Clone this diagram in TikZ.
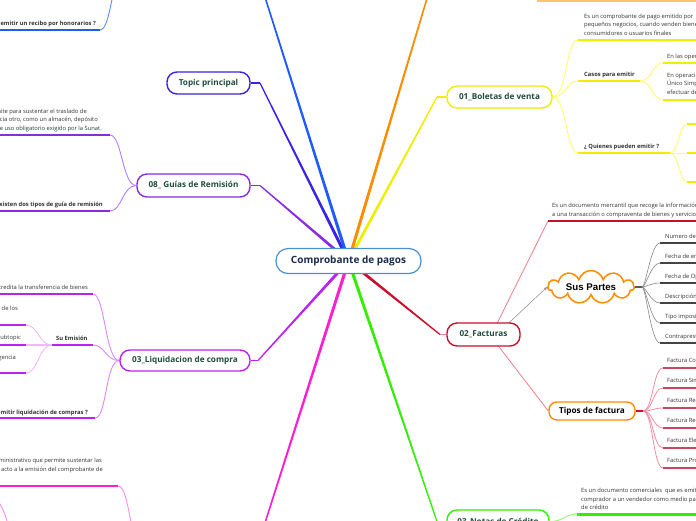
\documentclass[tikz,border=0pt]{standalone}
\usepackage{fontspec}
\setmainfont{Open Sans}
\newfontfamily\arialfont{Liberation Sans}
\usetikzlibrary{shapes.symbols,calc,arrows.meta}
\pgfdeclarelayer{bg}
\pgfsetlayers{bg,main}
\definecolor{cCenterB}{HTML}{4A90D0}
\definecolor{cNavy}{HTML}{1B2B4B}
\definecolor{cTG}{HTML}{1F4D3C}
\definecolor{cTxt}{HTML}{333333}
\definecolor{cBlue}{HTML}{1F5BFF}
\definecolor{cBlueL}{HTML}{5C8BFF}
\definecolor{cInd}{HTML}{3A22E6}
\definecolor{cOr}{HTML}{FF8C00}
\definecolor{cOrL}{HTML}{FFC46E}
\definecolor{cYel}{HTML}{EEEE00}
\definecolor{cYelL}{HTML}{FFFF70}
\definecolor{cCr}{HTML}{C8102E}
\definecolor{cCrL}{HTML}{E8808F}
\definecolor{cGreen}{HTML}{33EE00}
\definecolor{cGreenL}{HTML}{88FF66}
\definecolor{cPink}{HTML}{FF1ED2}
\definecolor{cPinkL}{HTML}{FF8CEB}
\definecolor{cMag}{HTML}{BB22EE}
\definecolor{cMagL}{HTML}{DD88FF}
\definecolor{cMagLL}{HTML}{F0B8FF}
\definecolor{cPur}{HTML}{8A2BE2}
\definecolor{cPurL}{HTML}{B080FF}
\definecolor{cGray}{HTML}{888888}
\definecolor{cDark}{HTML}{444444}
\definecolor{cTip}{HTML}{CC4560}
\definecolor{cTipL}{HTML}{EE8FA0}
\newcommand\mmtaper[5]{\fill[#1] ($(#2)!#4!90:(#3)$) -- ($(#3)!#5!-90:(#2)$) -- ($(#3)!#5!90:(#2)$) -- ($(#2)!#4!-90:(#3)$) -- cycle;}
\tikzset{
 cnode/.style={draw=cCenterB, line width=1.2pt, rounded corners=12pt, fill=white, minimum width=145pt, minimum height=25pt, inner sep=0pt, font=\fontsize{10}{12}\selectfont\bfseries, text=cNavy},
 topic/.style={rounded corners=10pt, line width=1.4pt, fill=white, minimum height=22pt, inner sep=0pt, font=\fontsize{8.2}{9}\selectfont\bfseries, text=cTG},
 ctext/.style={inner sep=0pt, font=\fontsize{5.8}{8.6}\selectfont, text=cTxt, align=left},
 btext/.style={ctext, font=\fontsize{5.8}{8.6}\selectfont\bfseries},
 conn/.style={line width=0.9pt},
 uline/.style={line width=2pt}
}
\begin{document}
\begin{tikzpicture}[x=1pt,y=-1pt]
\useasboundingbox (0,0) rectangle (696,520);
\clip (0,0) rectangle (696,520);
% ---------- topic nodes
\node[cnode] (C) at (348.5,261) {Comprobante de pagos};
\node[topic, draw=cInd, minimum width=83pt] (TP) at (208.5,83) {Topic principal};
\node[topic, draw=cPur, minimum width=113pt, minimum height=23pt] (G08) at (193.5,185.5) {08\_ Guías de Remisión};
\node[topic, draw=cMag, minimum width=130pt, minimum height=21pt] (L03) at (185,360.5) {03\_Liquidacion de compra};
\node[topic, draw=cYel, minimum width=105pt] (B01) at (499.5,97) {01\_Boletas de venta};
\node[topic, draw=cCr, minimum width=73pt, minimum height=23pt] (F02) at (483.5,334.5) {02\_Facturas};
\node[topic, draw=cGreen, minimum width=102pt, minimum height=23pt] (N03) at (498,521.5) {03\_Notas de Crédito};
\node[topic, draw=cOr, minimum width=86pt, minimum height=18pt, rounded corners=8pt, text=black] (TF) at (592,411) {Tipos de factura};
\node[cloud, cloud puffs=11, cloud ignores aspect, draw=cOr, line width=1.5pt, fill=white, minimum width=86pt, minimum height=33pt, inner sep=0pt, font=\arialfont\fontsize{9.7}{11}\selectfont\bfseries] (SP) at (591,287) {Sus Partes};
% ---------- text of sub-topics (right)
\node[ctext, anchor=north west] (tb1) at (584,13.6) {Es un comprobante de pago emitido por\\pequeños negocios, cuando venden bienes\\consumidores o usuarios finales};
\node[btext, anchor=base west] (tb2) at (584,76) {Casos para emitir};
\node[ctext, anchor=base west] (tb21) at (667,58) {En las operaciones};
\node[ctext, anchor=north west] (tb22) at (667,72.8) {En operaciones\\Único Simplificado\\efectuar deducciones};
\node[btext, anchor=base west] (tb3) at (584,148) {¿ Quienes pueden emitir ?};
\node[ctext, anchor=north west] (tf1) at (552,202.8) {Es un documento mercantil que recoge la información\\a una transacción o compraventa de bienes y servicios};
\foreach \y/\t [count=\i] in {243/Numero de factura,263/Fecha de emisión,283/Fecha de Operación,303/Descripción,323/Tipo impositivo,343/Contraprestación}{
  \node[ctext, anchor=base west] (tsp\i) at (665,\y-5) {\t};
  \coordinate (sp\i) at (660,\y);
}
\foreach \y/\t [count=\i] in {368/Factura Comercial,388/Factura Simplificada,408/Factura Rectificativa,428/Factura Recapitulativa,448/Factura Electrónica,468/Factura Proforma}{
  \node[ctext, anchor=base west] (ttf\i) at (667,\y-5.5) {\t};
  \coordinate (tf\i) at (663,\y);
}
\node[ctext, anchor=north west] (tg1) at (581,487.8) {Es un documento comerciales\ \ que es emitido por el\\comprador a un vendedor como medio para\\de crédito};
% ---------- text of sub-topics (left)
\node[btext, anchor=base east] (tq1) at (96,25) {¿Quién debe emitir un recibo por honorarios ?};
\node[ctext, anchor=base east] (tg08a) at (87,113) {que se emite para sustentar el traslado de};
\node[ctext, anchor=base east] (tg08b) at (98,121.5) {bienes de un lugar hacia otro, como un almacén, depósito};
\node[ctext, anchor=base east] (tg08c) at (102,130) {Es un documento de uso obligatorio exigido por la Sunat.};
\node[btext, anchor=base east] (tg08d) at (103,206) {Existen dos tipos de guía de remisión};
\node[ctext, anchor=base east] (tl1) at (88,289) {Acredita la transferencia de bienes};
\node[btext, anchor=base west] (tl2) at (56,340) {Su Emisión};
\node[ctext, anchor=base east] (tl21) at (18,310) {la compra de los};
\node[ctext, anchor=base east] (tl22) at (21,339.5) {Subtopic};
\node[ctext, anchor=base east] (tl23) at (16,359) {contingencia};
\node[btext, anchor=base east] (tl3) at (88,414) {¿Quién debe emitir liquidación de compras ?};
\node[ctext, anchor=base east] (tp1a) at (102,462) {Es un documento administrativo que permite sustentar las};
\node[ctext, anchor=base east] (tp1b) at (103,471) {o en el acto a la emisión del comprobante de};
% ---------- coordinates
\coordinate (eTP) at (260,83);
\coordinate (eG08) at (260,185.5);
\coordinate (eL03) at (258,360.5);
\coordinate (eB01) at (437,97);
\coordinate (eF02) at (440,334.5);
\coordinate (eN03) at (437,521.5);
\coordinate (eBl) at (258,-25);
\coordinate (eOr) at (434,-25);
\coordinate (ePk) at (257,548);
\coordinate (yb1) at (578,40);
\coordinate (yb2) at (578,81);
\coordinate (yb2e) at (640,81);
\coordinate (yb21) at (663,63);
\coordinate (yb22) at (663,100);
\coordinate (yb3) at (578,153);
\coordinate (yb3e) at (670,153);
\coordinate (yb31) at (687,124);
\coordinate (yb32) at (687,153);
\coordinate (yb33) at (687,182);
\coordinate (or1) at (537,1);
\coordinate (fr1) at (548,221);
\coordinate (spH) at (642,287);
\coordinate (tfH) at (643,411);
\coordinate (gr1) at (577,514);
\coordinate (bl1) at (100,30);
\coordinate (blP) at (122,-25);
\coordinate (g1) at (110,135);
\coordinate (g2) at (110,211);
\coordinate (l1) at (93,294);
\coordinate (l2) at (93,345);
\coordinate (l2L) at (52,345);
\coordinate (l21) at (26,325);
\coordinate (l22) at (26,345);
\coordinate (l23) at (26,373);
\coordinate (l3) at (95,418);
\coordinate (p1) at (118,486);
\coordinate (pk2) at (142,548);
\coordinate (pk4) at (-8,498);
\coordinate (pk5) at (10,532);
% ---------- connectors
\begin{pgfonlayer}{bg}
\clip (0,0) rectangle (696,520);
\fill[white] (0,0) rectangle (696,520);
% main branches
\mmtaper{cInd}{C.center}{eTP}{1.6pt}{0.6pt}
\draw[cInd, line width=1.2pt] (eTP) -- (TP.east);
\mmtaper{cPur}{C.center}{eG08}{1.6pt}{0.6pt}
\draw[cPur, line width=1.2pt] (eG08) -- (G08.east);
\mmtaper{cMag}{C.center}{eL03}{1.6pt}{0.6pt}
\draw[cMag, line width=1.2pt] (eL03) -- (L03.east);
\mmtaper{cYel}{C.center}{eB01}{1.6pt}{0.6pt}
\draw[cYel, line width=1.2pt] (eB01) -- (B01.west);
\mmtaper{cCr}{C.center}{eF02}{1.6pt}{0.6pt}
\draw[cCrL, line width=1.2pt] (eF02) -- (F02.west);
\mmtaper{cGreen}{C.center}{eN03}{1.6pt}{0.6pt}
\draw[cGreen, line width=1.2pt] (eN03) -- (N03.west);
\mmtaper{cBlue}{C.center}{eBl}{1.6pt}{0.7pt}
\mmtaper{cOr}{C.center}{eOr}{1.6pt}{0.7pt}
\mmtaper{cPink}{C.center}{ePk}{1.6pt}{0.7pt}
% yellow branch
\foreach \t in {yb1,yb2,yb3}{\draw[cYelL, conn] (B01.east) .. controls +(14,0) and +(-12,0) .. (\t);}
\draw[cYel, uline] (yb1) -- ++(130,0);
\draw[cYel, uline] (yb2) -- (yb2e);
\draw[cYel, uline] (yb3) -- (yb3e);
\foreach \t in {yb21,yb22}{\draw[cYelL, conn] (yb2e) .. controls +(12,0) and +(-11,0) .. (\t); \draw[cYel, uline] (\t) -- ++(40,0);}
\foreach \t in {yb31,yb32,yb33}{\draw[cYelL, conn] (yb3e) .. controls +(9,0) and +(-8,0) .. (\t); \draw[cYel, uline] (\t) -- ++(20,0);}
% orange
\draw[cOrL, uline] (or1) -- ++(170,0);
% crimson branch
\draw[cCrL, line width=0.8pt] ($(F02.center)+(8,0)$) -- (fr1);
\draw[cCr, line width=1.5pt] (fr1) -- ++(160,0);
\draw[cGray, line width=0.5pt, -{Stealth[length=3.5pt,width=2.8pt]}] ($(F02.center)+(13,0)$) -- (SP.west);
\draw[cCrL, line width=0.8pt] ($(F02.center)+(6,0)$) -- (TF.west);
\draw[black, line width=1.2pt] (SP.east) -- (spH);
\foreach \i in {1,...,6}{\draw[cGray, line width=0.6pt] (spH) .. controls +(4,0) and +(-9,0) .. (sp\i); \draw[cDark, line width=2.2pt] (sp\i) -- ++(40,0);}
\draw[cCr, line width=1.5pt] (TF.east) -- (tfH);
\foreach \i in {1,...,6}{\draw[cTipL, line width=0.8pt] (tfH) .. controls +(10,0) and +(-10,0) .. (tf\i); \draw[cTip, line width=2.4pt] (tf\i) -- ++(40,0);}
% green
\draw[cGreenL, conn] (N03.east) .. controls +(14,0) and +(-12,0) .. (gr1);
\draw[cGreen, line width=3pt] (gr1) -- ++(130,0);
% blue
\draw[cBlueL, conn] (bl1) .. controls +(11,0) and +(-10,0) .. (blP);
\draw[cBlue, uline] (bl1) -- ++(-110,0);
% purple 08
\foreach \t in {g1,g2}{\draw[cPurL, conn] (G08.west) .. controls +(-14,0) and +(12,0) .. (\t); \draw[cPur, uline] (\t) -- ++(-120,0);}
% liquidacion
\foreach \t in {l1,l2,l3}{\draw[cMagL, conn] (L03.west) .. controls +(-14,0) and +(12,0) .. (\t);}
\draw[cMag, uline] (l1) -- ++(-100,0);
\draw[cMag, uline] (l3) -- ++(-100,0);
\draw[cMag, uline] (l2) -- (l2L);
\foreach \t in {l21,l23}{\draw[cMagLL, conn] (l2L) .. controls +(-13,0) and +(12,0) .. (\t);}
\draw[cMagLL, line width=2pt] (l2L) -- (l22);
\foreach \t in {l21,l22,l23}{\draw[cMag, uline] (\t) -- ++(-40,0);}
% pink
\draw[cPinkL, conn] (p1) .. controls +(12,0) and +(-12,0) .. (pk2);
\draw[cPink, uline] (p1) -- ++(-125,0);
\draw[cPinkL, conn] (pk4) .. controls +(9,0) and +(-3,-12) .. (pk5);
\end{pgfonlayer}
\end{tikzpicture}
\end{document}
